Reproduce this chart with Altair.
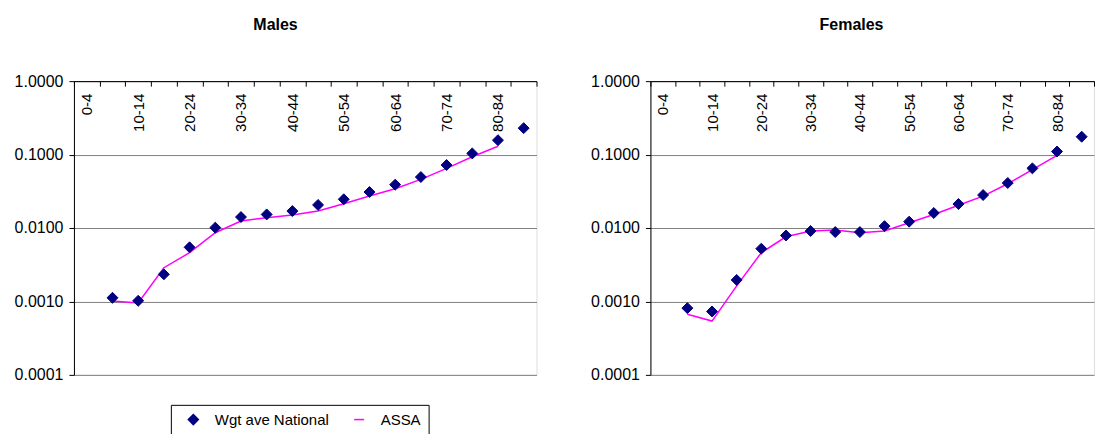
import json
import altair as alt
import pandas as pd

age_groups = ["0-4", "5-9", "10-14", "15-19", "20-24", "25-29", "30-34", "35-39",
              "40-44", "45-49", "50-54", "55-59", "60-64", "65-69", "70-74",
              "75-79", "80-84", "85+"]
label_groups = ["0-4", "10-14", "20-24", "30-34", "40-44", "50-54", "60-64", "70-74", "80-84"]
y_ticks = [0.0001, 0.001, 0.01, 0.1, 1.0]
series_names = ["Wgt ave National", "ASSA"]

males_national = [None, 0.00112, 0.00102, 0.00234, 0.00546, 0.0101, 0.0141, 0.0153, 0.0170,
                  0.0206, 0.0246, 0.0309, 0.0389, 0.0494, 0.0720, 0.1037, 0.157, 0.229]
males_assa = [None, 0.00101, 0.00095, 0.00288, 0.00461, 0.00863, 0.01245, 0.0138, 0.0150,
              0.0170, 0.0214, 0.0272, 0.0343, 0.0459, 0.0649, 0.0933, 0.130, None]
females_national = [None, 0.00081, 0.00073, 0.00196, 0.00523, 0.0079, 0.0091, 0.0088, 0.0088,
                    0.0106, 0.0122, 0.0160, 0.0212, 0.0281, 0.0410, 0.0649, 0.110, 0.175]
females_assa = [None, 0.00067, 0.00054, 0.00163, 0.00461, 0.0076, 0.0091, 0.0094, 0.0086,
                0.0091, 0.0118, 0.0153, 0.0204, 0.0272, 0.0400, 0.0622, 0.0975, None]

NAVY = "#000080"
MAGENTA = "#FF00FF"
FONT = "Liberation Sans"
H = 294


def make_df(nat, assa):
    rows = []
    for name, vals in zip(series_names, [nat, assa]):
        for a, v in zip(age_groups, vals):
            if v is not None:
                rows.append({"age": a, "value": v, "series": name})
    return pd.DataFrame(rows)


label_expr = "indexof(" + json.dumps(label_groups) + ", datum.value) >= 0 ? datum.label : ''"


def panel(title, nat, assa, width, title_dx=0):
    df = make_df(nat, assa)
    x = alt.X("age:N", sort=age_groups,
              scale=alt.Scale(type="band", domain=age_groups, paddingInner=0, paddingOuter=0),
              axis=alt.Axis(orient="bottom", offset=-H, title=None, labelAngle=-90,
                            labelExpr=label_expr, labelOverlap=False, tickBand="extent",
                            tickSize=5, labelPadding=7, labelFontSize=15, labelFont=FONT,
                            grid=False, domainColor="black", tickColor="black",
                            labelColor="black"))
    y = alt.Y("value:Q",
              scale=alt.Scale(type="log", domain=[0.0001, 1.0]),
              axis=alt.Axis(values=y_ticks, format=".4f", title=None, tickSize=5,
                            labelPadding=6, labelFontSize=16, labelFont=FONT,
                            grid=True, gridColor="#808080", domainColor="black",
                            tickColor="black", labelColor="black"))
    color = alt.Color("series:N",
                      scale=alt.Scale(domain=series_names, range=[NAVY, MAGENTA]),
                      legend=alt.Legend(title=None, orient="none", legendX=97, legendY=324,
                                        direction="horizontal", strokeColor="black",
                                        fillColor="white", padding=7, symbolOffset=8,
                                        labelOffset=14, columnPadding=14,
                                        labelFontSize=15, labelFont=FONT, labelColor="black",
                                        symbolSize=100, symbolStrokeWidth=1.5))
    shape = alt.Shape("series:N",
                      scale=alt.Scale(domain=series_names, range=["diamond", "stroke"]),
                      legend=alt.Legend(title=None, orient="none", legendX=97, legendY=324,
                                        direction="horizontal"))
    line = (alt.Chart(df)
            .transform_filter(alt.datum.series == series_names[1])
            .mark_line(strokeWidth=1.5)
            .encode(x=x, y=y, color=color))
    pts = (alt.Chart(df)
           .transform_filter(alt.datum.series == series_names[0])
           .mark_point(filled=False, fill=NAVY, size=120, opacity=1, strokeWidth=1)
           .encode(x=x, y=y, color=color, shape=shape))
    return alt.layer(line, pts).properties(
        width=width, height=H,
        title=alt.TitleParams(text=title, fontSize=16, fontWeight="bold", font=FONT,
                              anchor="middle", frame="bounds", offset=40, dx=title_dx,
                              color="black"))


chart = (alt.hconcat(panel("Males", males_national, males_assa, 463),
                     panel("Females", females_national, females_assa, 444, title_dx=9),
                     spacing=52)
         .properties(padding={"left": 5, "right": 0, "top": 8, "bottom": 5})
         .configure_view(stroke="#a0a0a0", strokeWidth=2)
         .configure(background="white"))

chart.save("out.html", embed_options={"renderer": "svg", "actions": False})
